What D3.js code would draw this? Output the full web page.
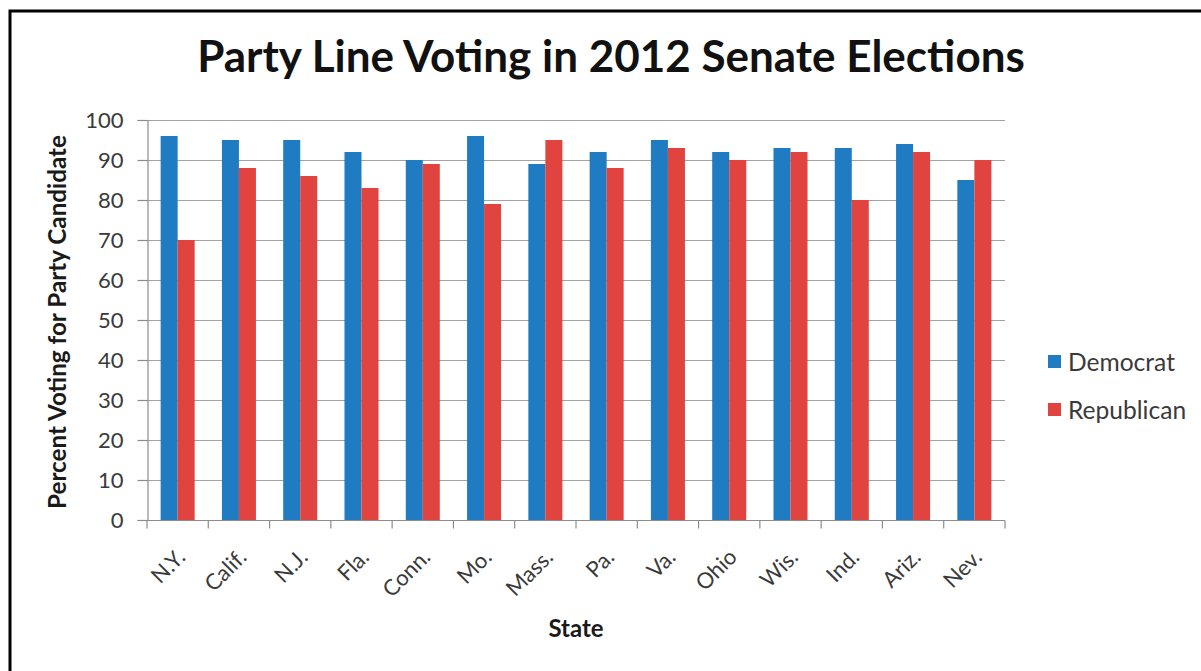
<!DOCTYPE html>
<html>
<head>
<meta charset="utf-8">
<script src="https://cdn.jsdelivr.net/npm/d3@7"></script>
<style>
  html, body { margin: 0; padding: 0; background: #fff; overflow: hidden; }
  svg { display: block; }
  text { font-family: Lato, "Open Sans", "DejaVu Sans", sans-serif; }
</style>
</head>
<body>
<svg id="chart" width="1201" height="671"></svg>
<script>
// Share of each party's voters who backed their own Senate candidate, 2012
const states = ["N.Y.", "Calif.", "N.J.", "Fla.", "Conn.", "Mo.", "Mass.", "Pa.", "Va.", "Ohio", "Wis.", "Ind.", "Ariz.", "Nev."];
const democrat   = [96, 95, 95, 92, 90, 96, 89, 92, 95, 92, 93, 93, 94, 85];
const republican = [70, 88, 86, 83, 89, 79, 95, 88, 93, 90, 92, 80, 92, 90];
const seriesNames = ["Democrat", "Republican"];
const seriesColors = ["#1f7bc2", "#e1443f"];
const yTicks = [0, 10, 20, 30, 40, 50, 60, 70, 80, 90, 100];

const rows = states.map((s, i) => ({ state: s, values: [democrat[i], republican[i]] }));

const svg = d3.select("#chart");
const W = 1201, H = 671;
const plot = { left: 147, right: 1005, top: 120, bottom: 520 };

// shrink or grow a text node's font so it spans the given width
function fitWidth(sel, width) {
  const fs = parseFloat(sel.attr("font-size"));
  const w = sel.node().getComputedTextLength();
  sel.attr("font-size", fs * width / w);
}

svg.append("rect").attr("width", W).attr("height", H).attr("fill", "#fff");

// frame around the chart area
svg.append("rect")
  .attr("x", 10).attr("y", 11)
  .attr("width", W + 20).attr("height", H + 20)
  .attr("fill", "none").attr("stroke", "#000").attr("stroke-width", 3);

// title
const title = svg.append("text")
  .attr("x", (197 + 1025) / 2).attr("y", 72)
  .attr("text-anchor", "middle")
  .attr("font-weight", "bold")
  .attr("font-size", 36)
  .attr("fill", "#111")
  .text("Party Line Voting in 2012 Senate Elections");
fitWidth(title, 828);

const x = d3.scaleBand().domain(states).range([plot.left, plot.right]).paddingInner(0.445).paddingOuter(0.2225);
const xs = d3.scaleBand().domain(d3.range(seriesNames.length)).range([0, x.bandwidth()]).padding(0);
const y = d3.scaleLinear().domain([0, 100]).range([plot.bottom, plot.top]);

// horizontal gridlines
svg.append("g")
  .selectAll("line")
  .data(yTicks.filter(t => t > 0))
  .join("line")
  .attr("x1", plot.left).attr("x2", plot.right)
  .attr("y1", d => Math.round(y(d)) + 0.5).attr("y2", d => Math.round(y(d)) + 0.5)
  .attr("stroke", "#a3a3a3").attr("stroke-width", 1.2);

// bars
const groups = svg.append("g")
  .selectAll("g")
  .data(rows)
  .join("g")
  .attr("transform", d => `translate(${x(d.state)},0)`);

groups.selectAll("rect")
  .data(d => d.values.map((v, i) => ({ v, i })))
  .join("rect")
  .attr("x", d => xs(d.i))
  .attr("width", xs.bandwidth())
  .attr("y", d => y(d.v))
  .attr("height", d => y(0) - y(d.v))
  .attr("fill", d => seriesColors[d.i]);

// y axis
const yAxis = svg.append("g")
  .attr("transform", `translate(${plot.left + 0.5},0)`)
  .call(d3.axisLeft(y).tickValues(yTicks).tickSize(10).tickPadding(14).tickFormat(d3.format("d")));
yAxis.select(".domain").attr("stroke", "#8c8c8c").attr("stroke-width", 1.2);
yAxis.selectAll(".tick line").attr("stroke", "#8c8c8c").attr("stroke-width", 1.2);
yAxis.selectAll(".tick text")
  .attr("font-size", 22)
  .attr("fill", "#3a3a3a")
  .attr("font-family", "Lato, 'Open Sans', sans-serif");

// x axis: ticks sit between categories
const xAxis = svg.append("g")
  .attr("transform", `translate(0,${plot.bottom + 0.5})`);
xAxis.append("line")
  .attr("x1", plot.left).attr("x2", plot.right)
  .attr("stroke", "#8c8c8c").attr("stroke-width", 1.2);
const boundaries = states.map(s => x(s) - x.step() * x.paddingInner() / 2).concat([plot.right]);
xAxis.selectAll("line.tk")
  .data(boundaries)
  .join("line")
  .attr("class", "tk")
  .attr("x1", d => d).attr("x2", d => d)
  .attr("y1", 0).attr("y2", 8)
  .attr("stroke", "#8c8c8c").attr("stroke-width", 1.2);
xAxis.selectAll("text")
  .data(states)
  .join("text")
  .attr("transform", d => `translate(${x(d) + x.bandwidth() / 2 + 9},${38}) rotate(-45)`)
  .attr("text-anchor", "end")
  .attr("font-size", 22)
  .attr("fill", "#3a3a3a")
  .text(d => d);

// axis titles
const xTitle = svg.append("text")
  .attr("x", (plot.left + plot.right) / 2).attr("y", 637)
  .attr("text-anchor", "middle")
  .attr("font-weight", "bold")
  .attr("font-size", 18)
  .attr("fill", "#1a1a1a")
  .text("State");
fitWidth(xTitle, 55);

const yTitle = svg.append("text")
  .attr("transform", `translate(66,${(plot.top + plot.bottom) / 2 + 2}) rotate(-90)`)
  .attr("text-anchor", "middle")
  .attr("font-weight", "bold")
  .attr("font-size", 18)
  .attr("fill", "#1a1a1a")
  .text("Percent Voting for Party Candidate");
fitWidth(yTitle, 374);

// legend
const legend = svg.append("g").attr("transform", "translate(1048,0)");
const legendY = [362, 410];
seriesNames.forEach((name, i) => {
  legend.append("rect")
    .attr("x", 0).attr("y", legendY[i] - 7)
    .attr("width", 13).attr("height", 13)
    .attr("fill", seriesColors[i]);
  const t = legend.append("text")
    .attr("x", 20).attr("y", legendY[i])
    .attr("dy", "0.35em")
    .attr("font-size", 20)
    .attr("fill", "#3a3a3a")
    .text(name);
  if (i === 0) fitWidth(t, 107);
  else t.attr("font-size", legend.select("text").attr("font-size"));
});
</script>
</body>
</html>
